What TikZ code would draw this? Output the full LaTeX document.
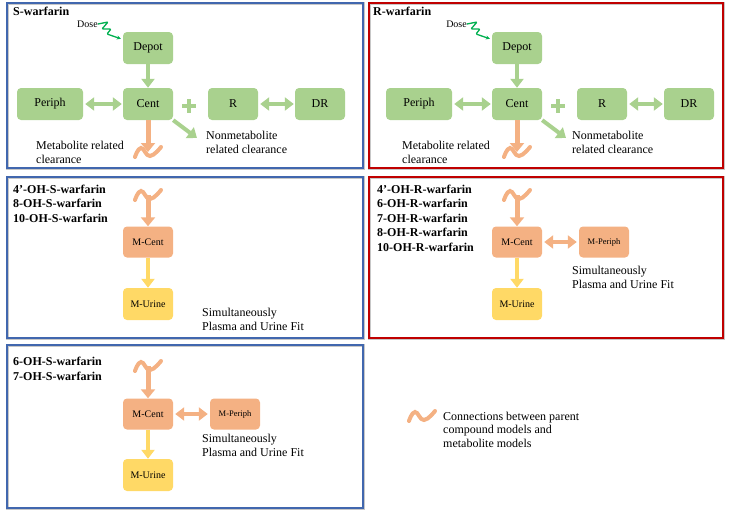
\documentclass[tikz,border=0pt]{standalone}
\usepackage{fontspec}
\setmainfont{Liberation Serif}
\usetikzlibrary{arrows.meta}
\definecolor{boxg}{HTML}{A9D18E}
\definecolor{boxo}{HTML}{F4B183}
\definecolor{boxy}{HTML}{FFD966}
\definecolor{dosegreen}{HTML}{00B050}
\definecolor{frameb}{HTML}{4167AE}
\definecolor{framer}{HTML}{C00000}

\begin{document}
\begin{tikzpicture}[x=1pt,y=-1pt,
    gbox/.style={fill=boxg, rounded corners=4pt, minimum width=50pt, minimum height=32pt, inner sep=0pt, font=\fontsize{12}{14}\selectfont},
    obox/.style={gbox, fill=boxo, minimum height=31pt, font=\fontsize{10}{12}\selectfont},
    ybox/.style={gbox, fill=boxy, font=\fontsize{10}{12}\selectfont},
    small/.style={font=\fontsize{8.5}{10}\selectfont},
    txt/.style={inner sep=0pt, anchor=west, align=left, font=\fontsize{12}{14}\selectfont},
    ttl/.style={txt, font=\fontsize{12}{14.5}\selectfont\bfseries},
    garrow/.style={boxg, line width=4.5pt, -{Triangle[width=13pt,length=9pt]}},
    gdarrow/.style={boxg, line width=4.5pt, {Triangle[width=13pt,length=9pt]}-{Triangle[width=13pt,length=9pt]}, shorten <=2pt, shorten >=1pt},
    oarrow/.style={boxo, line width=5pt, -{Triangle[width=14pt,length=9pt]}},
    odarrow/.style={boxo, line width=4.5pt, {Triangle[width=13pt,length=9pt]}-{Triangle[width=13pt,length=9pt]}, shorten <=2pt, shorten >=2pt},
    yarrow/.style={boxy, line width=4.5pt, -{Triangle[width=13pt,length=9pt]}},
    dose/.style={dosegreen, line width=1.3pt, rounded corners=1pt, -{Stealth[length=4pt,width=4pt]}},
    plus/.style={boxg, line width=4.5pt},
    sfr/.style={draw=frameb, line width=1.4pt, preaction={draw=black!22, line width=3pt}},
    rfr/.style={draw=framer, line width=1.4pt, preaction={draw=black!22, line width=3pt}},
    wave/.pic={\draw[boxo, line width=4pt, line cap=round] plot[smooth, tension=0.8] coordinates {(-13,5) (-7,-4) (2,4) (13,-5)};}]
  \useasboundingbox (0,0) rectangle (730,514);

  % S-warfarin parent model
  \draw[sfr] (7,3) rectangle (363,168);
  \node[ttl] (sttl) at (13,11) {S-warfarin};
  \node[gbox] (sdepot) at (148,48) {Depot};
  \node[gbox] (scent) at (148,104) {Cent};
  \node[gbox, minimum width=66pt] (speriph) at (50,104) {Periph};
  \node[gbox] (sr) at (233,104) {R};
  \node[gbox] (sdr) at (320,104) {DR};
  \node[txt, font=\fontsize{10}{12}\selectfont, anchor=east] (sdose) at (98,24) {Dose};
  \draw[dose] (sdose.east) -- ++(10,-2) -- ++(-6,7) -- ++(9,0) -- ++(-4,5) -- ([xshift=-2pt,yshift=-7pt]sdepot.north west);
  \draw[garrow] (sdepot) -- (scent);
  \draw[gdarrow] (speriph) -- (scent);
  \draw[gdarrow] (sr) -- (sdr);
  \draw[plus] (182,106) -- (196,106) (189,99) -- (189,113);
  \coordinate (snm) at (197,138);
  \draw[garrow, line width=4pt] (scent.south east) -- (snm);
  \coordinate (sw0) at (148,152);
  \draw[oarrow] (scent) -- (sw0);
  \pic at (sw0) {wave};
  \node[txt] (smet) at (36,152) {Metabolite related\\clearance};
  \node[txt] (snon) at (206,142) {Nonmetabolite\\related clearance};

  % R-warfarin parent model
  \draw[rfr] (369,3) rectangle (723,168);
  \node[ttl] (rttl) at (373,11) {R-warfarin};
  \node[gbox] (rdepot) at (517,48) {Depot};
  \node[gbox] (rcent) at (517,104) {Cent};
  \node[gbox, minimum width=66pt] (rperiph) at (419,104) {Periph};
  \node[gbox] (rr) at (602,104) {R};
  \node[gbox] (rdr) at (689,104) {DR};
  \node[txt, font=\fontsize{10}{12}\selectfont, anchor=east] (rdose) at (467,24) {Dose};
  \draw[dose] (rdose.east) -- ++(10,-2) -- ++(-6,7) -- ++(9,0) -- ++(-4,5) -- ([xshift=-2pt,yshift=-7pt]rdepot.north west);
  \draw[garrow] (rdepot) -- (rcent);
  \draw[gdarrow] (rperiph) -- (rcent);
  \draw[gdarrow] (rr) -- (rdr);
  \draw[plus] (551,106) -- (565,106) (558,99) -- (558,113);
  \coordinate (rnm) at (566,138);
  \draw[garrow, line width=4pt] (rcent.south east) -- (rnm);
  \coordinate (rw0) at (517,152);
  \draw[oarrow] (rcent) -- (rw0);
  \pic at (rw0) {wave};
  \node[txt] (rmet) at (402,152) {Metabolite related\\clearance};
  \node[txt] (rnon) at (572,142) {Nonmetabolite\\related clearance};

  % S metabolites, one compartment
  \draw[sfr] (7,177) rectangle (363,338);
  \node[ttl] (slist1) at (13,203.5) {4’-OH-S-warfarin\\8-OH-S-warfarin\\10-OH-S-warfarin};
  \coordinate (sw1) at (148,195);
  \node[obox] (smcent1) at (148,242) {M-Cent};
  \node[ybox] (smurine1) at (148,304) {M-Urine};
  \draw[oarrow] (sw1) -- (smcent1);
  \pic at (sw1) {wave};
  \draw[yarrow] (smcent1) -- (smurine1);
  \node[txt] (sfit1) at (202,319) {Simultaneously\\Plasma and Urine Fit};

  % R metabolites
  \draw[rfr] (369,177) rectangle (723,338);
  \node[ttl] (rlist1) at (377,218) {4’-OH-R-warfarin\\6-OH-R-warfarin\\7-OH-R-warfarin\\8-OH-R-warfarin\\10-OH-R-warfarin};
  \coordinate (rw1) at (517,195);
  \node[obox] (rmcent1) at (517,242) {M-Cent};
  \node[obox, small] (rmperiph1) at (604,242) {M-Periph};
  \node[ybox] (rmurine1) at (517,304) {M-Urine};
  \draw[oarrow] (rw1) -- (rmcent1);
  \pic at (rw1) {wave};
  \draw[odarrow] (rmcent1) -- (rmperiph1);
  \draw[yarrow] (rmcent1) -- (rmurine1);
  \node[txt] (rfit1) at (572,277) {Simultaneously\\Plasma and Urine Fit};

  % S metabolites, two compartments
  \draw[sfr] (7,345) rectangle (363,508);
  \node[ttl] (slist2) at (13,369) {6-OH-S-warfarin\\7-OH-S-warfarin};
  \coordinate (sw2) at (148,366);
  \node[obox] (smcent2) at (148,414) {M-Cent};
  \node[obox, small] (smperiph2) at (235,414) {M-Periph};
  \node[ybox] (smurine2) at (148,475) {M-Urine};
  \draw[oarrow] (sw2) -- (smcent2);
  \pic at (sw2) {wave};
  \draw[odarrow] (smcent2) -- (smperiph2);
  \draw[yarrow] (smcent2) -- (smurine2);
  \node[txt] (sfit2) at (202,445) {Simultaneously\\Plasma and Urine Fit};

  % legend
  \coordinate (lw) at (422,416);
  \pic at (lw) {wave};
  \node[txt, font=\fontsize{12}{13.5}\selectfont] (leg) at (443,429.5) {Connections between parent\\compound models and\\metabolite models};
\end{tikzpicture}
\end{document}
